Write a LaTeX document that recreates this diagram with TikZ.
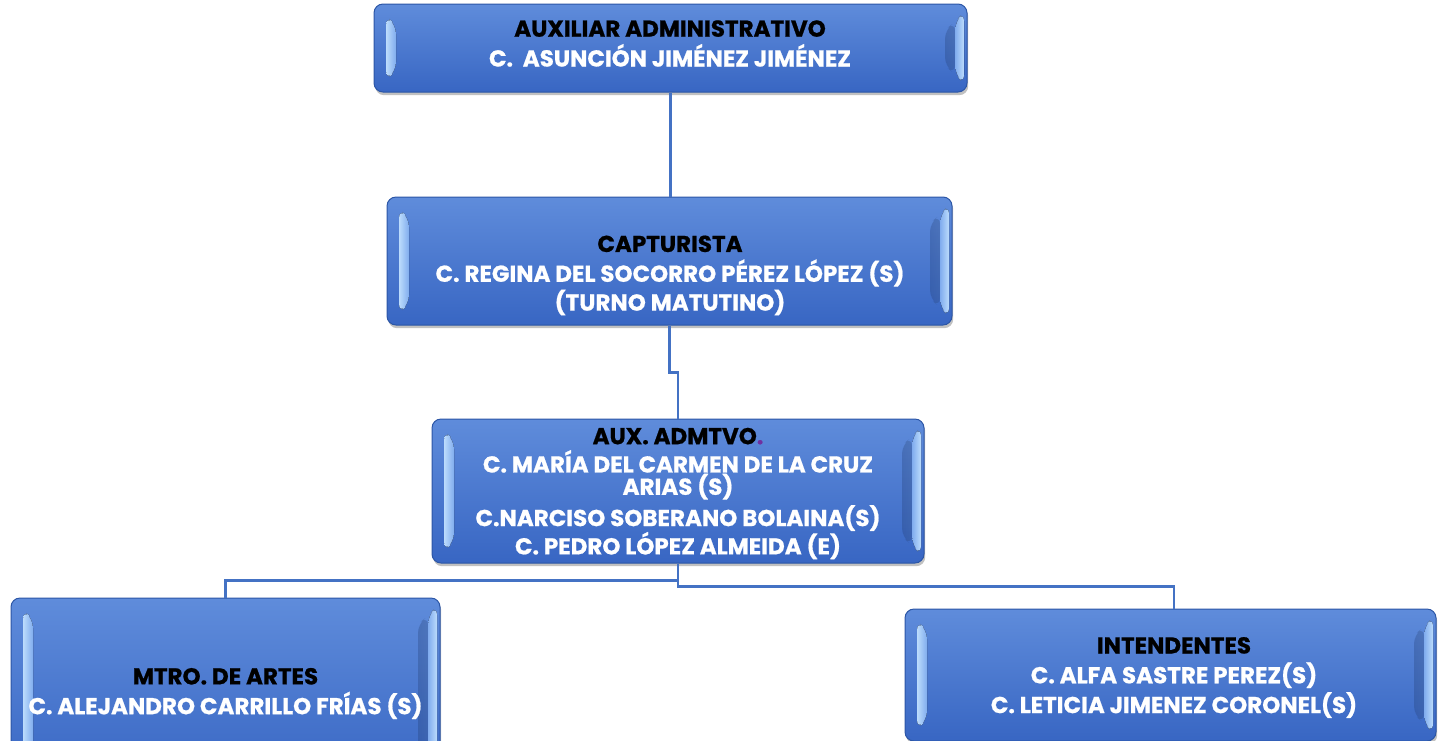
\documentclass[tikz,border=0pt]{standalone}
\usepackage{fontspec}
\setmainfont{Poppins}[BoldFeatures={FakeBold=0.8}]
\usetikzlibrary{calc,shadows}
\definecolor{boxtop}{HTML}{5F8CDB}
\definecolor{boxbot}{HTML}{3866C3}
\definecolor{boxedge}{HTML}{2C56A6}
\definecolor{linkc}{HTML}{4472C4}
\definecolor{bevlight}{HTML}{BCDCFC}
\definecolor{bevmid}{HTML}{80ACEE}
\definecolor{dotpurple}{HTML}{7030A0}
\tikzset{
  x=0.5pt, y=-0.5pt,
  orgbox/.style={rectangle, rounded corners=4.5pt, draw=boxedge, line width=0.5pt,
    top color=boxtop, bottom color=boxbot, inner sep=0pt,
    drop shadow={shadow xshift=0.6pt, shadow yshift=-1.6pt, opacity=0.35, fill=black!70},
    path picture={
      \coordinate (nw) at (path picture bounding box.north west);
      \coordinate (sw) at (path picture bounding box.south west);
      \coordinate (ne) at (path picture bounding box.north east);
      \coordinate (se) at (path picture bounding box.south east);
      \fill[left color=bevlight, right color=bevmid]
        ($(nw)+(12,12)$) -- ($(nw)+(22,21)$) -- ($(sw)+(22,-21)$) -- ($(sw)+(12,-12)$) -- cycle;
      \fill[left color=boxbot, right color=boxtop, opacity=0.15]
        ($(ne)+(-12,18)$) -- ($(ne)+(-22,26)$) -- ($(se)+(-22,-26)$) -- ($(se)+(-12,-18)$) -- cycle;
      \fill[left color=bevmid, right color=bevlight]
        ($(ne)+(-3,8)$) -- ($(ne)+(-12,18)$) -- ($(se)+(-12,-18)$) -- ($(se)+(-3,-8)$) -- cycle;
    }},
  boxtext/.style={align=center, inner sep=0pt, text=white,
    font=\fontsize{11.5}{14.9}\selectfont\bfseries},
  link/.style={draw=linkc, line width=1.4pt}
}
\newcommand{\blk}[1]{\textcolor{black}{#1}}
\begin{document}
\begin{tikzpicture}
\useasboundingbox (0,0) rectangle (1438,740);
\node[orgbox, minimum width=296.5pt, minimum height=44pt] (top) at (670.5,48) {};
\node[orgbox, minimum width=282.5pt, minimum height=64pt] (cap) at (669.5,261) {};
\node[orgbox, minimum width=246pt, minimum height=72pt] (aux) at (678,491) {};
\node[orgbox, minimum width=214.5pt, minimum height=93pt] (mtro) at (225.5,691) {};
\node[orgbox, minimum width=265.5pt, minimum height=66pt] (int) at (1170.5,675) {};
\node[boxtext] (topT) at (670,43.5)
  {\blk{AUXILIAR ADMINISTRATIVO}\\ C.\ \ ASUNCIÓN JIMÉNEZ JIMÉNEZ};
\node[boxtext] (capT) at (670,275.5)
  {\blk{CAPTURISTA}\\ C. REGINA DEL SOCORRO PÉREZ LÓPEZ (S)\\[-0.5pt] (TURNO MATUTINO)};
\node[boxtext] (auxT) at (678,493.5)
  {\blk{AUX. ADMTVO}\textcolor{dotpurple}{.}\\[-0.75pt] C. MARÍA DEL CARMEN DE LA CRUZ\\[-3.75pt] ARIAS (S)\\[0.75pt] C.NARCISO SOBERANO BOLAINA(S)\\[-0.75pt] C. PEDRO LÓPEZ ALMEIDA (E)};
\node[boxtext] (mtroT) at (225.5,693.5)
  {\blk{MTRO. DE ARTES}\\ C. ALEJANDRO CARRILLO FRÍAS (S)};
\node[boxtext] (intT) at (1174,677.5)
  {\blk{INTENDENTES}\\ C. ALFA SASTRE PEREZ(S)\\ C. LETICIA JIMENEZ CORONEL(S)};
\draw[link] (top.south) -- (top.south |- cap.north);
\draw[link] (cap.south) -- ++(0,47) -| (aux.north);
\draw[link] (aux.south) -- ++(0,17) -| (mtro.north);
\draw[link] (aux.south) -- ++(0,23) -| ([xshift=1.75pt]int.north);
\end{tikzpicture}
\end{document}
